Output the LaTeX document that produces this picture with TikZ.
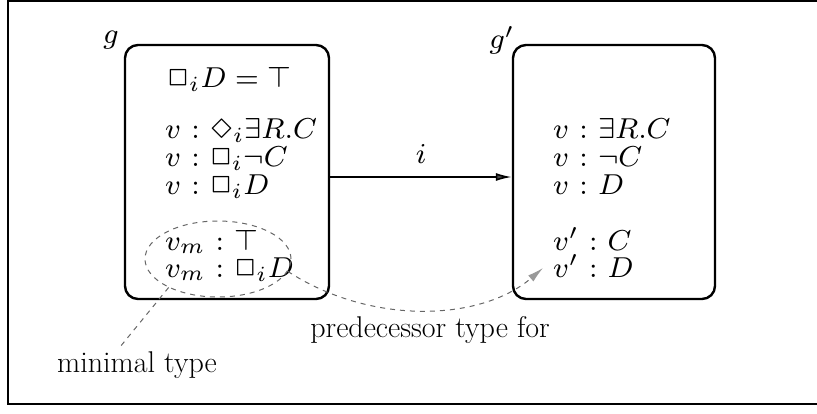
\documentclass[tikz,border=0pt]{standalone}
\usepackage{graphicx}
\usepackage{latexsym}
\usetikzlibrary{shapes.geometric,arrows.meta}
\newcommand{\fm}[1]{\scalebox{3.6}{\fontsize{8}{9}\selectfont$#1$}}
\newcommand{\cl}{\mathrel{\mkern1mu:\mkern1mu}}
\begin{document}
\begin{tikzpicture}[x=1pt,y=-1pt,
  font=\fontsize{30}{36}\selectfont,
  worldbox/.style={draw,line width=2.4pt,rounded corners=13pt,minimum width=204pt,minimum height=254pt,inner sep=0pt},
  fact/.style={anchor=base west,inner sep=0pt},
  dashline/.style={draw=black!60,line width=1pt,dash pattern=on 5pt off 5pt},
  lbl/.style={inner sep=0pt}]
\useasboundingbox (0,0) rectangle (817,413);
\clip (0,0) rectangle (817,413);
\draw[line width=1.3pt] (8,1) rectangle (840,404);
% worlds
\node[worldbox] (g) at (227,172) {};
\node[worldbox,minimum width=202pt] (gp) at (614,172) {};
\node[lbl] (gl) at (111,40) {\fm{g}};
\node[lbl] (gpl) at (502,40) {\fm{g'}};
% left facts
\node[fact] (l0) at (167,87) {\fm{\Box_iD=\top}};
\node[fact] (l1) at (165,138) {\fm{v\cl\Diamond_i\exists R.C}};
\node[fact] (l2) at (165,166) {\fm{v\cl\Box_i\neg C}};
\node[fact] (l3) at (165,194) {\fm{v\cl\Box_iD}};
\node[fact] (l4) at (165,250) {\fm{v_m\cl\top}};
\node[fact] (l5) at (165,277) {\fm{v_m\cl\Box_iD}};
% right facts
\node[fact] (r1) at (553,138) {\fm{v\cl\exists R.C}};
\node[fact] (r2) at (553,166) {\fm{v\cl\neg C}};
\node[fact] (r3) at (553,194) {\fm{v\cl D}};
\node[fact] (r4) at (553,250) {\fm{v'\cl C}};
\node[fact] (r5) at (553,277) {\fm{v'\cl D}};
% accessibility
\draw[line width=1.6pt,-{Latex[length=16pt,width=8pt,fill=black!70]}]
  ([yshift=-5pt]g.east) -- node[lbl,above=13pt] (il) {\fm{i}} ([yshift=-5pt]gp.west);
% minimal type ellipse
\node[ellipse,dashline,minimum width=146pt,minimum height=76pt,inner sep=0pt] (ell) at (218,259) {};
\node[lbl] (mt) at (137,365) {minimal type};
\coordinate (mtend) at (120,347);
\draw[dashline] (ell.210) -- (mtend);
% predecessor type
\coordinate (ptip) at (543,268);
\draw[dashline,-{Latex[length=16pt,width=8pt,color=black!40]}]
  (ell.-10) .. controls (370,325) and (480,322) .. (ptip);
\node[lbl] (pt) at (430,330) {predecessor type for};
\end{tikzpicture}
\end{document}
